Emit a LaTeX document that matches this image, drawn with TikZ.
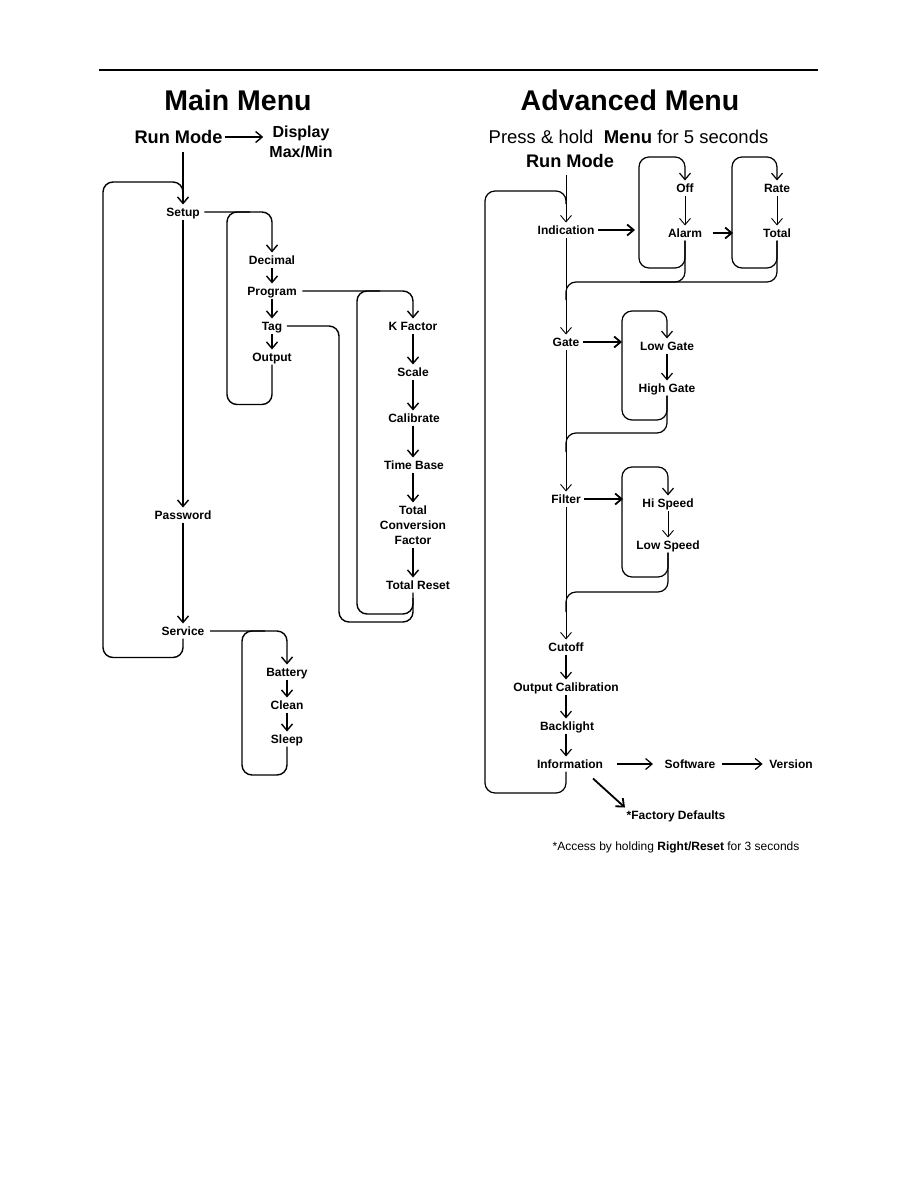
\documentclass[tikz,border=0pt]{standalone}
\usepackage{fontspec}
\setmainfont{Liberation Sans}
\usetikzlibrary{arrows.meta,calc}
\begin{document}
\begin{tikzpicture}[x=1pt,y=-1pt,
  title/.style={font=\fontsize{28.5}{30}\selectfont\bfseries, text height=20.4pt, text depth=0pt, inner sep=0pt},
  big/.style={font=\fontsize{18.2}{20}\selectfont\bfseries, text height=13pt, text depth=0pt, inner sep=2pt},
  lbl/.style={font=\fontsize{12}{15}\selectfont\bfseries, text height=8.6pt, text depth=0pt, inner xsep=1.5pt, inner ysep=3pt},
  ml/.style={font=\fontsize{12}{15}\selectfont\bfseries, align=center, inner sep=3pt},
  tip/.style={-{Straight Barb[length=6.5pt,width=11pt]}},
  ln/.style={line width=1.4pt, rounded corners=10pt},
  arr/.style={ln, tip},
  lnr/.style={line width=1.2pt, rounded corners=10pt},
  arrr/.style={lnr, tip},
  tln/.style={line width=0.9pt, rounded corners=10pt},
  arrt/.style={tln, tip},
  arrT/.style={line width=1.8pt, tip},
]
\useasboundingbox (0,0) rectangle (918,1188);
\fill[white] (0,0) rectangle (918,1188);

% header rule
\coordinate (hl) at (99,70);
\coordinate (hr) at (818,70);
\draw[line width=1.3pt] (hl) -- (hr);

% ---------------- Main Menu ----------------
\node[title] (mm) at (238,100) {Main Menu};
\node[big] (rm) at (178.5,137) {Run Mode};
\node[font=\fontsize{16}{20}\selectfont\bfseries, align=center, inner sep=2pt] (dmm) at (301,142) {Display\\Max/Min};
\draw[ln, tip, shorten >=4pt] (rm.east) -- (rm.east -| dmm.west);

\node[lbl] (setup) at (183,212) {Setup};
\node[lbl] (password) at (183,515) {Password};
\node[lbl] (service) at (183,631) {Service};

\node[lbl] (decimal) at (272,260) {Decimal};
\node[lbl] (program) at (272,291) {Program};
\node[lbl] (tag) at (272,326) {Tag};
\node[lbl] (output) at (272,357) {Output};

\coordinate (colK) at (413,0);
\node[lbl] (kf) at (413,326) {K Factor};
\node[lbl] (scale) at (413,372) {Scale};
\node[lbl] (calib) at (414,418) {Calibrate};
\node[lbl] (tbase) at (414,465) {Time Base};
\node[ml] (tcf) at (413,525) {Total\\Conversion\\Factor};
\node[lbl] (treset) at (418,585) {Total Reset};

\node[lbl] (battery) at (287,672) {Battery};
\node[lbl] (clean) at (287,705) {Clean};
\node[lbl] (sleep) at (287,739) {Sleep};

% trunk
\draw[arr] ($(rm.south -| setup.north)+(0,6)$) -- (setup.north);
\draw[arr] (setup) -- (password);
\draw[arr] (password) -- (service);
\draw[ln] (service.south) -- ++(0,19) -| (103,182) -- (183,182) -- (183,198);

% setup submenu
\draw[arr] ([xshift=3pt]setup.east) -| (decimal.north);
\draw[ln] (output.south) -- ++(0,40) -| (227,212) -- (250,212);
\draw[arr] (decimal) -- (program);
\draw[arr] (program) -- (tag);
\draw[arr] (tag) -- (output);

% program submenu
\draw[arr] ([xshift=4pt]program.east) -| (kf.north);
\draw[arr] (kf.south -| colK) -- (scale.north -| colK);
\draw[arr] (scale.south -| colK) -- (calib.north -| colK);
\draw[arr] (calib.south -| colK) -- (tbase.north -| colK);
\draw[arr] (tbase.south -| colK) -- (tcf.north -| colK);
\draw[arr] (tcf.south -| colK) -- (treset.north -| colK);
\draw[ln] (treset.south -| colK) -- (413,614) -| (357,291) -- (380,291);
\draw[ln] ([xshift=3pt]tag.east) -| (339,622) -| (413,598);

% service submenu
\draw[arr] ([xshift=4pt]service.east) -| (battery.north);
\draw[arr] (battery) -- (clean);
\draw[arr] (clean) -- (sleep);
\draw[ln] (sleep.south) -- (287,775) -| (242,631) -- (265,631);

% ---------------- Advanced Menu ----------------
\node[title] (am) at (630,100) {Advanced Menu};
\node[font=\fontsize{18.5}{20}\selectfont, text height=13.2pt, text depth=0pt, inner sep=0pt] (press) at (628.5,137) {Press \& hold\ \ \textbf{Menu} for 5 seconds};
\node[big] (rm2) at (570,161) {Run Mode};

\coordinate (colR) at (566,0);
\node[lbl] (indication) at (566,230) {Indication};
\node[lbl] (gate) at (566,342) {Gate};
\node[lbl] (filter) at (566,499) {Filter};
\node[lbl] (cutoff) at (566,647) {Cutoff};
\node[lbl] (outcal) at (566,687) {Output Calibration};
\node[lbl] (backlight) at (567,726) {Backlight};
\node[lbl] (info) at (570,764) {Information};

\node[lbl] (off) at (685,188) {Off};
\node[lbl] (alarm) at (685,233) {Alarm};
\node[lbl] (rate) at (777,188) {Rate};
\node[lbl] (total) at (777,233) {Total};

\node[lbl] (lowgate) at (667,346) {Low Gate};
\node[lbl] (highgate) at (667,388) {High Gate};
\node[lbl] (hispeed) at (668,503) {Hi Speed};
\node[lbl] (lowspeed) at (668,545) {Low Speed};

\node[lbl] (software) at (690,764) {Software};
\node[lbl] (version) at (791,764) {Version};
\node[lbl] (factory) at (676,815) {*Factory Defaults};
\node[font=\fontsize{12}{14}\selectfont, inner sep=0pt] (note) at (676,847) {*Access by holding \textbf{Right/Reset} for 3 seconds};

\coordinate (offin) at (635,230);
\coordinate (ratein) at (733,233);
\coordinate (gatein) at (622,342);
\coordinate (filtin) at (623,499);

% trunk and outer loop
\draw[arrt] ($(rm2.south -| colR)+(0,5)$) -- (indication.north -| colR);
\draw[lnr] (info.south -| colR) -- (566,793) -| (485,191) -- (566,191) -- (566,204);

% indication
\draw[arrT] ([xshift=2pt]indication.east) -- (offin);
\draw[arrr] (alarm.south) -- (685,268) -| (639,157) -| (off.north);
\draw[arrt] (off) -- (alarm);
\draw[arrT] ([xshift=9pt]alarm.east) -- (ratein);
\draw[arrr] (total.south) -- (777,268) -| (732,157) -| (rate.north);
\draw[arrt] (rate) -- (total);
\draw[lnr] (alarm.south) -- (685,282) -- (566,282) -- (566,300);
\draw[lnr] (total.south) -- (777,282) -- (640,282);
\draw[arrt] (indication) -- (gate);

% gate
\draw[arrT] ([xshift=2pt]gate.east) -- (gatein);
\draw[arrr] (highgate.south) -- (667,420) -| (622,311) -| (lowgate.north);
\draw[arrr] (lowgate) -- (highgate);
\draw[lnr] (highgate.south) |- (566,433) -- (566,452);
\draw[arrt] (gate) -- (filter);

% filter
\draw[arrT] ([xshift=2pt]filter.east) -- (filtin);
\draw[arrr] (lowspeed.south) -- (668,577) -| (622,467) -| (hispeed.north);
\draw[arrt] (hispeed) -- (lowspeed);
\draw[lnr] (lowspeed.south) |- (566,592) -- (566,612);
\draw[arrt] (filter) -- (cutoff);

% lower chain
\draw[arrr] (cutoff) -- (outcal);
\draw[arrr] (outcal.south -| colR) -- (backlight.north -| colR);
\draw[arrr] (backlight.south -| colR) -- (info.north -| colR);
\draw[arrr, shorten <=12pt, shorten >=10pt] (info) -- (software);
\draw[arrr, shorten <=5pt, shorten >=5pt] (software) -- (version);
\draw[arrT] ([xshift=23pt,yshift=-7pt]info.south) -- (factory.north west);
\end{tikzpicture}
\end{document}
